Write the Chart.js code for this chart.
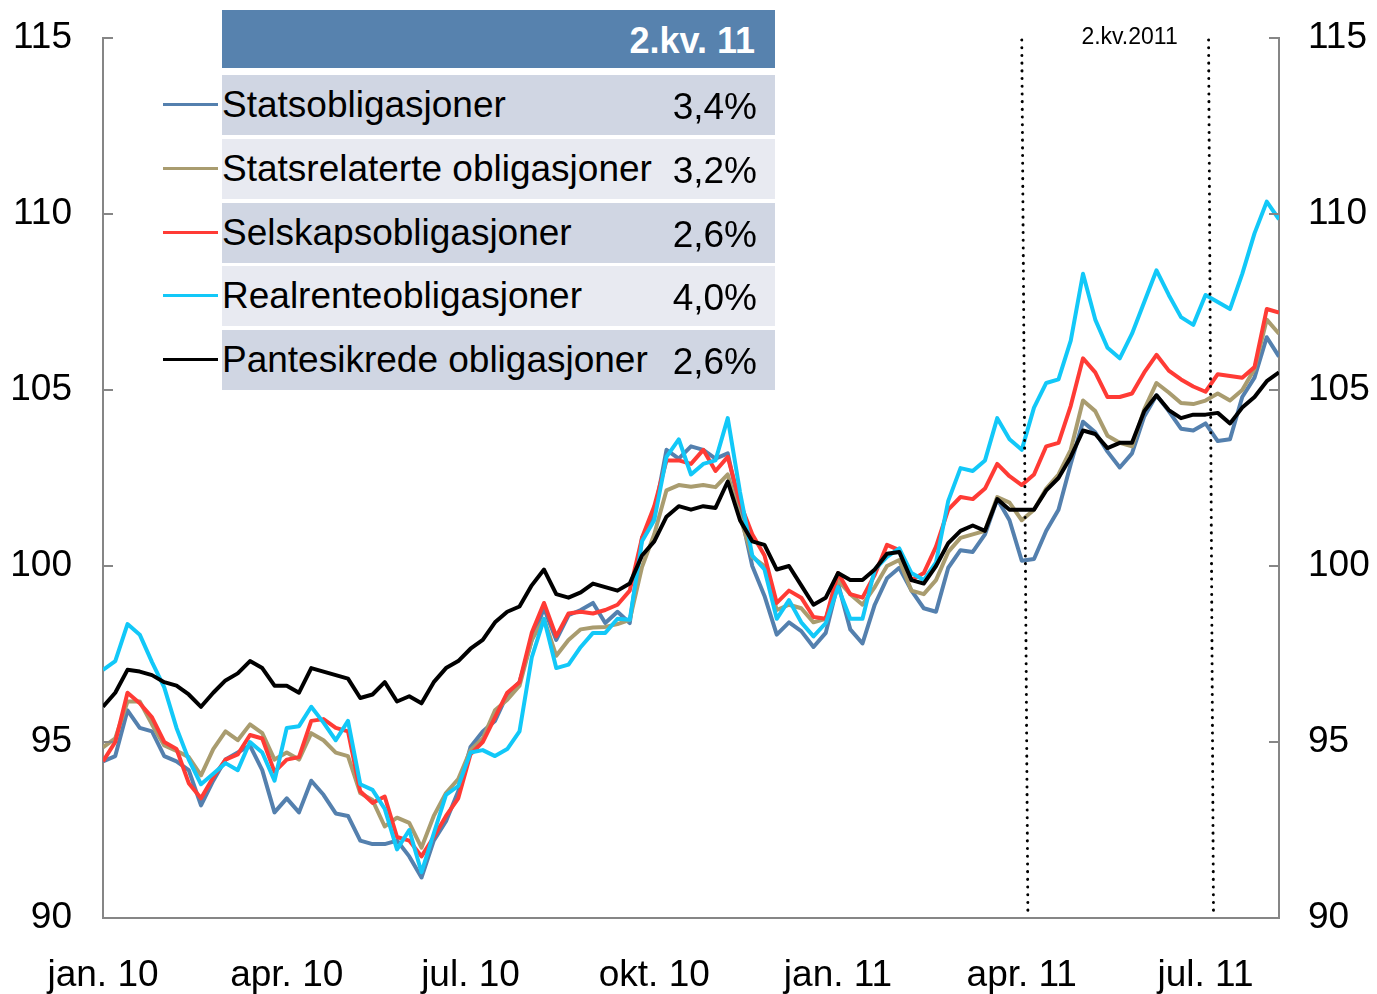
<!DOCTYPE html>
<html>
<head>
<meta charset="utf-8">
<script src="https://cdn.jsdelivr.net/npm/chart.js@4.4.1/dist/chart.umd.min.js"></script>
<style>
body { margin: 0; background: #fff; font-family: "Liberation Sans", Arial, sans-serif; }
#wrap { position: relative; width: 1377px; height: 994px; }
#legend { position: absolute; left: 222px; top: 10px; width: 553px; }
.head { height: 58px; background: #5782AE; color: #fff; font-weight: bold; font-size: 36px;
        line-height: 62px; text-align: right; padding-right: 20px; box-sizing: border-box; }
.row { position: absolute; left: 0; width: 553px; height: 60px; font-size: 37px; line-height: 60px; color: #000; }
.row.dark { background: #D0D6E3; }
.row.light { background: #E8EAF1; }
.row .pct { position: absolute; right: 18px; top: 2px; }
.row .swatch { position: absolute; left: -59px; top: 28px; width: 55px; height: 3px; }
</style>
</head>
<body>
<div id="wrap">
  <canvas id="chart" width="1377" height="994"></canvas>
  <div id="legend"></div>
</div>
<script>
// Quarter tick labels (x axis), months since jan. 2010
const quarterLabels = ['jan. 10', 'apr. 10', 'jul. 10', 'okt. 10', 'jan. 11', 'apr. 11', 'jul. 11'];
const yTicks = [90, 95, 100, 105, 110, 115];

// Legend table
const seriesNames = ['Statsobligasjoner', 'Statsrelaterte obligasjoner', 'Selskapsobligasjoner', 'Realrenteobligasjoner', 'Pantesikrede obligasjoner'];
const quarterReturns = ['3,4%', '3,2%', '2,6%', '4,0%', '2,6%'];
const headerLabel = '2.kv. 11';
const colors = ['#5480AE', '#A99C6F', '#FF3B35', '#12C8F8', '#000000'];

// Index values, sampled every 0.2 month from jan. 2010
const stats = [94.45,94.6,95.9,95.4,95.3,94.6,94.45,94.2,93.2,93.9,
 94.5,94.7,94.9,94.2,93.0,93.4,93.0,93.9,93.5,92.97,
 92.9,92.2,92.1,92.1,92.2,91.75,91.15,92.2,92.75,93.6,
 94.86,95.3,95.6,96.35,96.7,97.9,98.8,97.9,98.6,98.75,
 98.95,98.38,98.7,98.38,100.8,101.45,103.3,103.05,103.4,103.3,
 103.05,103.2,101.6,100.0,99.15,98.05,98.4,98.15,97.7,98.1,
 99.5,98.2,97.8,98.9,99.65,99.95,99.3,98.8,98.7,99.95,
 100.45,100.4,100.9,101.9,101.3,100.15,100.2,101.0,101.6,102.9,
 104.1,103.8,103.25,102.8,103.2,104.25,104.85,104.4,103.9,103.85,
 104.05,103.55,103.6,104.8,105.35,106.5,105.95];

const statsrelaterte = [94.85,95.1,96.15,96.15,95.5,94.9,94.75,94.57,94.05,94.8,
 95.3,95.05,95.5,95.25,94.5,94.7,94.5,95.25,95.05,94.7,
 94.6,93.55,93.35,92.6,92.85,92.7,92.0,92.9,93.55,93.95,
 94.77,95.1,95.9,96.2,96.6,97.9,98.5,97.45,97.9,98.2,
 98.25,98.27,98.35,98.47,99.97,100.9,102.15,102.3,102.25,102.3,
 102.24,102.6,101.4,100.26,100.0,98.75,98.9,98.8,98.4,98.5,
 99.6,99.2,98.9,99.4,100.0,100.17,99.3,99.2,99.6,100.4,
 100.8,100.9,101.0,101.96,101.8,101.3,101.6,102.2,102.6,103.3,
 104.7,104.4,103.7,103.5,103.4,104.45,105.2,104.93,104.63,104.6,
 104.7,104.9,104.7,105.0,105.6,107.0,106.6];

const selskap = [94.45,95.0,96.4,96.1,95.7,95.0,94.8,93.83,93.4,94.0,
 94.5,94.65,95.2,95.1,94.15,94.5,94.57,95.6,95.65,95.4,
 95.3,93.6,93.27,93.45,92.3,92.2,91.75,92.3,92.9,93.4,
 94.65,95.0,95.7,96.4,96.7,98.1,98.95,98.0,98.65,98.7,
 98.65,98.75,98.9,99.3,100.8,101.7,103.0,103.0,102.9,103.3,
 102.7,103.1,101.8,100.9,100.3,98.95,99.3,99.1,98.55,98.5,
 99.8,99.2,99.1,99.75,100.6,100.45,99.6,99.8,100.55,101.6,
 101.96,101.9,102.2,102.9,102.55,102.3,102.6,103.4,103.5,104.55,
 105.9,105.5,104.8,104.8,104.9,105.5,106.0,105.55,105.3,105.1,
 104.95,105.45,105.4,105.35,105.65,107.3,107.2];

const realrente = [97.05,97.3,98.35,98.05,97.27,96.55,95.4,94.5,93.8,94.1,
 94.4,94.2,95.0,94.7,93.9,95.4,95.45,96.0,95.55,95.05,
 95.6,93.8,93.64,93.1,91.95,92.5,91.3,92.4,93.5,93.75,
 94.7,94.77,94.6,94.8,95.3,97.4,98.5,97.1,97.2,97.7,
 98.1,98.1,98.5,98.47,100.7,101.3,103.1,103.6,102.6,102.9,
 103.0,104.2,102.1,100.3,99.9,98.5,99.03,98.4,98.0,98.38,
 99.4,98.5,98.5,99.9,100.26,100.5,99.8,99.6,100.1,101.85,
 102.78,102.7,103.0,104.2,103.6,103.3,104.5,105.2,105.3,106.4,
 108.3,107.0,106.2,105.9,106.6,107.5,108.4,107.7,107.07,106.85,
 107.7,107.5,107.3,108.3,109.45,110.35,109.85];

const pantesikrede = [96.0,96.4,97.05,97.0,96.9,96.7,96.6,96.35,96.0,96.4,
 96.75,96.95,97.3,97.1,96.6,96.6,96.4,97.1,97.0,96.9,
 96.8,96.25,96.35,96.7,96.15,96.3,96.1,96.7,97.1,97.3,
 97.65,97.9,98.4,98.7,98.85,99.45,99.9,99.2,99.1,99.25,
 99.5,99.4,99.3,99.5,100.3,100.7,101.4,101.7,101.6,101.7,
 101.65,102.4,101.3,100.7,100.6,99.9,100.0,99.45,98.9,99.1,
 99.8,99.6,99.6,99.9,100.35,100.4,99.6,99.5,100.0,100.65,
 101.0,101.15,101.0,101.9,101.6,101.6,101.6,102.15,102.5,103.1,
 103.85,103.75,103.35,103.5,103.5,104.4,104.85,104.43,104.2,104.3,
 104.3,104.35,104.05,104.5,104.8,105.25,105.5];

// 2. quarter 2011 markers (months since jan. 2010)
const quarterStart = 15.05;
const quarterEnd = 18.09;
const quarterText = '2.kv.2011';

const allSeries = [stats, statsrelaterte, selskap, realrente, pantesikrede];
const STEP = 0.2;

// Build legend table
const legend = document.getElementById('legend');
legend.innerHTML = '<div class="head">' + headerLabel + '</div>';
seriesNames.forEach((name, i) => {
    const row = document.createElement('div');
    row.className = 'row ' + (i % 2 === 0 ? 'dark' : 'light');
    row.style.top = (65 + i * 63.8) + 'px';
    row.innerHTML = '<span class="swatch" style="background:' + colors[i] + '"></span>' +
        name + '<span class="pct">' + quarterReturns[i] + '</span>';
    legend.appendChild(row);
});

const FONT = '"Liberation Sans", Arial, sans-serif';
const AXIS = '#868686';

// inward tick marks + dotted quarter lines
const extras = {
    id: 'extras',
    afterDatasetsDraw(chart) {
        const { ctx, chartArea: a, scales } = chart;
        const y = scales.y, x = scales.x;
        ctx.save();
        ctx.strokeStyle = AXIS;
        ctx.lineWidth = 2;
        yTicks.forEach(v => {
            const py = Math.round(y.getPixelForValue(v));
            ctx.beginPath();
            ctx.moveTo(a.left, py); ctx.lineTo(a.left + 10, py);
            ctx.moveTo(a.right - 10, py); ctx.lineTo(a.right, py);
            ctx.stroke();
        });
        ctx.strokeStyle = '#000';
        ctx.lineWidth = 3;
        ctx.lineCap = 'round';
        ctx.setLineDash([0.1, 7.6]);
        [[quarterStart, 0.1], [quarterEnd, 0.08]].forEach(([m, lean]) => {
            ctx.beginPath();
            ctx.moveTo(x.getPixelForValue(m - lean / 2), a.top + 2);
            ctx.lineTo(x.getPixelForValue(m + lean / 2), a.bottom - 3);
            ctx.stroke();
        });
        ctx.setLineDash([]);
        ctx.fillStyle = '#000';
        ctx.font = '23px ' + FONT;
        ctx.textAlign = 'center';
        ctx.textBaseline = 'alphabetic';
        ctx.fillText(quarterText, x.getPixelForValue((quarterStart + quarterEnd) / 2 + 0.19), 44);
        ctx.restore();
    }
};

const yScale = (pos) => ({
    position: pos,
    min: 90, max: 115,
    afterBuildTicks: s => { s.ticks = yTicks.map(v => ({ value: v })); },
    afterFit: s => {
        s.width = pos === 'left' ? 103 : 98;
        s.paddingTop = 0;
        s.paddingBottom = 0;
    },
    grid: { display: false, drawTicks: false },
    border: { display: true, color: AXIS, width: 2 },
    ticks: { color: '#000', font: { size: 37, family: FONT }, padding: pos === 'left' ? 31 : 29 }
});

new Chart(document.getElementById('chart'), {
    type: 'line',
    data: {
        datasets: allSeries.map((vals, i) => ({
            label: seriesNames[i],
            data: vals.map((v, k) => ({ x: k * STEP, y: v })),
            borderColor: colors[i],
            borderWidth: 4,
            pointRadius: 0,
            tension: 0,
            borderJoinStyle: 'round',
            order: allSeries.length - i
        }))
    },
    options: {
        responsive: false,
        animation: false,
        layout: { padding: { top: 38, left: 0, right: 0, bottom: 0 } },
        plugins: { legend: { display: false }, tooltip: { enabled: false } },
        scales: {
            x: {
                type: 'linear',
                min: 0, max: 19.2,
                afterBuildTicks: s => { s.ticks = quarterLabels.map((_, i) => ({ value: i * 3 })); },
                afterFit: s => { s.height = 76; },
                grid: { display: false, drawTicks: false },
                border: { display: true, color: AXIS, width: 2 },
                ticks: {
                    color: '#000', font: { size: 37, family: FONT }, padding: 36,
                    maxRotation: 0, autoSkip: false,
                    callback: v => quarterLabels[Math.round(v / 3)]
                }
            },
            y: yScale('left'),
            y2: yScale('right')
        }
    },
    plugins: [extras]
});
</script>
</body>
</html>
